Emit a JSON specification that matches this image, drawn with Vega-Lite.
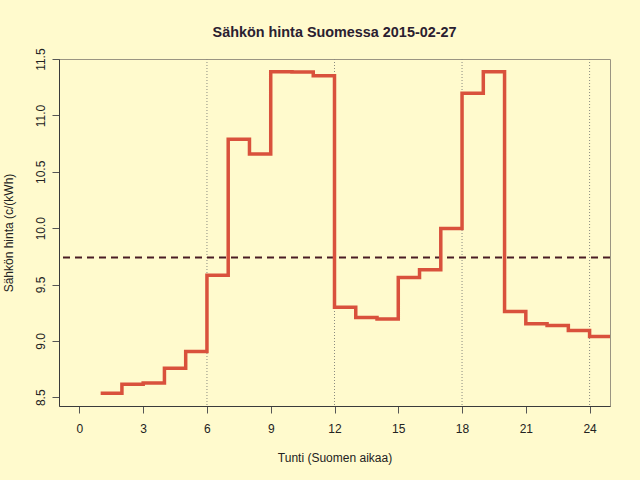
{
  "$schema": "https://vega.github.io/schema/vega-lite/v6.json",
  "width": 551,
  "height": 347,
  "autosize": {"type": "none"},
  "padding": {"left": 59, "top": 59, "right": 30, "bottom": 74},
  "background": "#FFFACD",
  "title": {
    "text": "Sähkön hinta Suomessa 2015-02-27",
    "font": "Liberation Sans",
    "fontSize": 14.4,
    "fontWeight": "bold",
    "color": "#2a2030",
    "anchor": "middle",
    "baseline": "alphabetic",
    "offset": -4
  },
  "config": {
    "view": {"stroke": "#9a9482", "strokeWidth": 1},
    "axis": {
      "grid": false,
      "labelFont": "Liberation Sans",
      "labelFontSize": 12,
      "labelColor": "#222222",
      "titleFont": "Liberation Sans",
      "titleFontSize": 12,
      "titleFontWeight": "normal",
      "titleColor": "#222222",
      "domainColor": "#3a3a3a",
      "tickColor": "#555555",
      "tickSize": 7,
      "labelFlush": false,
      "labelOverlap": false
    }
  },
  "datasets": {
    "hinnat": [
      {"tunti": 1, "hinta": 8.536},
      {"tunti": 2, "hinta": 8.615},
      {"tunti": 3, "hinta": 8.627},
      {"tunti": 4, "hinta": 8.757},
      {"tunti": 5, "hinta": 8.905},
      {"tunti": 6, "hinta": 9.583},
      {"tunti": 7, "hinta": 10.790},
      {"tunti": 8, "hinta": 10.659},
      {"tunti": 9, "hinta": 11.387},
      {"tunti": 10, "hinta": 11.385},
      {"tunti": 11, "hinta": 11.352},
      {"tunti": 12, "hinta": 9.299},
      {"tunti": 13, "hinta": 9.207},
      {"tunti": 14, "hinta": 9.195},
      {"tunti": 15, "hinta": 9.562},
      {"tunti": 16, "hinta": 9.630},
      {"tunti": 17, "hinta": 9.997},
      {"tunti": 18, "hinta": 11.198},
      {"tunti": 19, "hinta": 11.387},
      {"tunti": 20, "hinta": 9.260},
      {"tunti": 21, "hinta": 9.151},
      {"tunti": 22, "hinta": 9.136},
      {"tunti": 23, "hinta": 9.091},
      {"tunti": 24, "hinta": 9.038},
      {"tunti": 25, "hinta": 9.038}
    ],
    "ruudukko": [
      {"tunti": 6},
      {"tunti": 12},
      {"tunti": 18},
      {"tunti": 24}
    ],
    "keskiarvo": [
      {"hinta": 9.74}
    ]
  },
  "layer": [
    {
      "data": {"name": "ruudukko"},
      "mark": {"type": "rule", "color": "#8a8a80", "strokeWidth": 1, "strokeDash": [1, 2]},
      "encoding": {
        "x": {"field": "tunti", "type": "quantitative"}
      }
    },
    {
      "data": {"name": "keskiarvo"},
      "mark": {"type": "rule", "color": "#4a1c24", "strokeWidth": 2, "strokeDash": [7, 5]},
      "encoding": {
        "y": {"field": "hinta", "type": "quantitative"}
      }
    },
    {
      "data": {"name": "hinnat"},
      "mark": {"type": "line", "interpolate": "step-after", "color": "#d9513c", "strokeWidth": 3.5, "clip": true},
      "encoding": {
        "x": {
          "field": "tunti",
          "type": "quantitative",
          "scale": {"domain": [-0.96, 24.96], "nice": false, "zero": false},
          "axis": {
            "title": "Tunti (Suomen aikaa)",
            "values": [0, 3, 6, 9, 12, 15, 18, 21, 24],
            "labelBaseline": "alphabetic",
            "labelPadding": 19.6,
            "titleX": 275.5,
            "titleY": 51,
            "titleBaseline": "middle",
            "titleAlign": "center"
          }
        },
        "y": {
          "field": "hinta",
          "type": "quantitative",
          "scale": {"domain": [8.422, 11.501], "nice": false, "zero": false},
          "axis": {
            "title": "Sähkön hinta (c/(kWh)",
            "values": [8.5, 9, 9.5, 10, 10.5, 11, 11.5],
            "format": ".1f",
            "labelAngle": -90,
            "labelAlign": "center",
            "labelBaseline": "alphabetic",
            "labelPadding": 8,
            "titleAngle": -90,
            "titleX": -51,
            "titleY": 173.5,
            "titleBaseline": "middle",
            "titleAlign": "center"
          }
        }
      }
    }
  ]
}
